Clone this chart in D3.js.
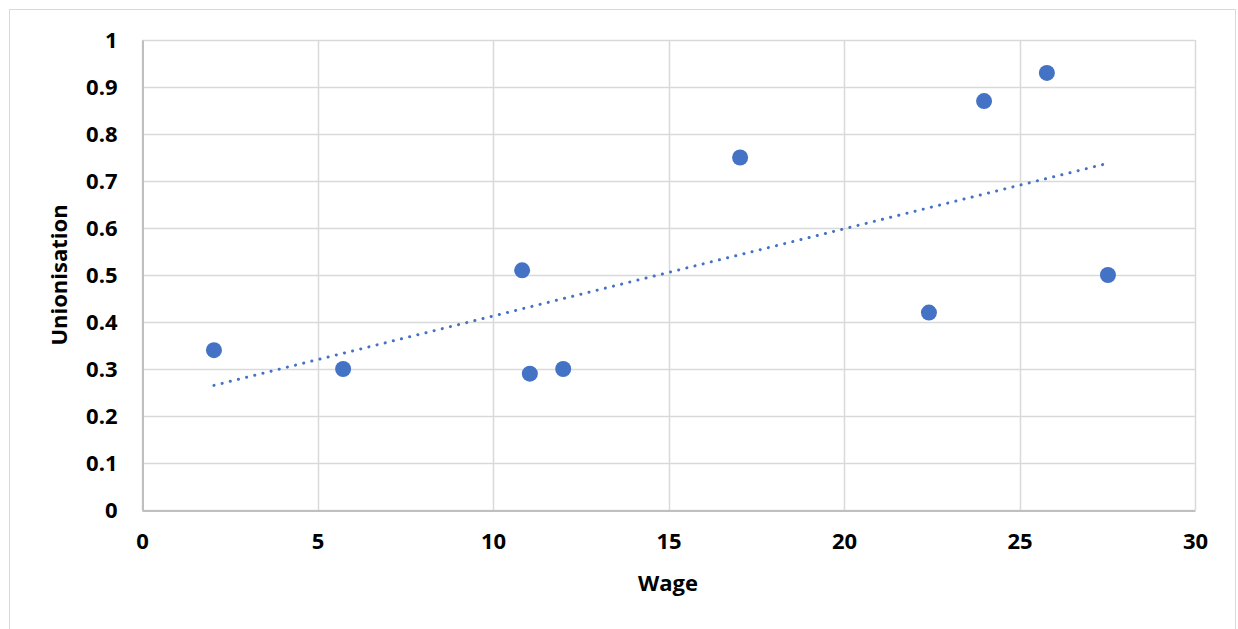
<!DOCTYPE html>
<html>
<head>
<meta charset="utf-8">
<script src="https://cdn.jsdelivr.net/npm/d3@7"></script>
<style>
  html, body { margin: 0; padding: 0; background: #fff; }
  svg { display: block; }
  text { font-family: "Open Sans", Lato, sans-serif; font-weight: 700; fill: #000; }
</style>
</head>
<body>
<svg id="chart" width="1238" height="629"></svg>
<script>
// Wage vs. unionisation rate
const wage         = [2.05, 5.73, 10.83, 11.05, 12.0, 17.04, 22.42, 23.99, 25.78, 27.52];
const unionisation = [0.34, 0.30, 0.51, 0.29, 0.30, 0.75, 0.42, 0.87, 0.93, 0.50];
const xTicks = [0, 5, 10, 15, 20, 25, 30];
const yTicks = [0, 0.1, 0.2, 0.3, 0.4, 0.5, 0.6, 0.7, 0.8, 0.9, 1];

const W = 1238, H = 629;
const margin = { left: 142, top: 40, right: W - 1195, bottom: H - 510 };
const FONT = "\"Open Sans\", Lato, sans-serif";
const FS = "22px";
const svg = d3.select("#chart");

// outer chart frame
svg.append("rect")
  .attr("x", 9.5).attr("y", 9.5)
  .attr("width", 1226).attr("height", 640)
  .attr("fill", "#fff").attr("stroke", "#d9d9d9").attr("stroke-width", 1);

const x = d3.scaleLinear().domain([0, 30]).range([margin.left, W - margin.right]);
const y = d3.scaleLinear().domain([0, 1]).range([H - margin.bottom, margin.top]);

// gridlines
const grid = svg.append("g");
grid.selectAll(".gy").data(yTicks).join("line")
  .attr("x1", x(0)).attr("x2", x(30))
  .attr("y1", d => Math.round(y(d)) + 0.5).attr("y2", d => Math.round(y(d)) + 0.5)
  .attr("stroke", "#d9d9d9").attr("stroke-width", 1.5);
grid.selectAll(".gx").data(xTicks).join("line")
  .attr("y1", y(0)).attr("y2", y(1))
  .attr("x1", d => Math.round(x(d)) + 0.5).attr("x2", d => Math.round(x(d)) + 0.5)
  .attr("stroke", "#d9d9d9").attr("stroke-width", 1.5);

// axes
const xAxis = svg.append("g")
  .attr("transform", `translate(0,${Math.round(y(0)) + 0.5})`)
  .call(d3.axisBottom(x).tickValues(xTicks).tickSize(0).tickPadding(23).tickFormat(d3.format("d")));
xAxis.select(".domain").attr("stroke", "#bfbfbf").attr("stroke-width", 2);
xAxis.selectAll("text").style("font-size", FS).style("font-family", FONT).style("font-weight", 700).attr("fill", "#000");

const yAxis = svg.append("g")
  .attr("transform", `translate(${Math.round(x(0)) + 0.5},0)`)
  .call(d3.axisLeft(y).tickValues(yTicks).tickSize(0).tickPadding(25).tickFormat(d => d === 0 || d === 1 ? d3.format("d")(d) : d3.format(".1f")(d)));
yAxis.select(".domain").attr("stroke", "#bfbfbf").attr("stroke-width", 2);
yAxis.selectAll("text").style("font-size", FS).style("font-family", FONT).style("font-weight", 700).attr("fill", "#000");

// linear trendline (least squares)
const n = wage.length;
const mx = d3.mean(wage), my = d3.mean(unionisation);
let sxy = 0, sxx = 0;
for (let i = 0; i < n; i++) {
  sxy += (wage[i] - mx) * (unionisation[i] - my);
  sxx += (wage[i] - mx) ** 2;
}
const slope = sxy / sxx, intercept = my - slope * mx;
const [x0, x1] = d3.extent(wage);
svg.append("line")
  .attr("x1", x(x0)).attr("y1", y(intercept + slope * x0))
  .attr("x2", x(x1)).attr("y2", y(intercept + slope * x1))
  .attr("stroke", "#4472c4").attr("stroke-width", 3)
  .attr("stroke-linecap", "round")
  .attr("stroke-dasharray", "0.1 8.3");

// data points
svg.append("g").selectAll("circle")
  .data(wage.map((w, i) => [w, unionisation[i]]))
  .join("circle")
  .attr("cx", d => x(d[0])).attr("cy", d => y(d[1]))
  .attr("r", 8).attr("fill", "#4472c4");

// axis titles
svg.append("text")
  .attr("x", 668).attr("y", 591)
  .attr("text-anchor", "middle").style("font-size", FS)
  .text("Wage");
svg.append("text")
  .attr("transform", `translate(67,${(y(0) + y(1)) / 2}) rotate(-90)`)
  .attr("text-anchor", "middle").style("font-size", FS)
  .text("Unionisation");
</script>
</body>
</html>
